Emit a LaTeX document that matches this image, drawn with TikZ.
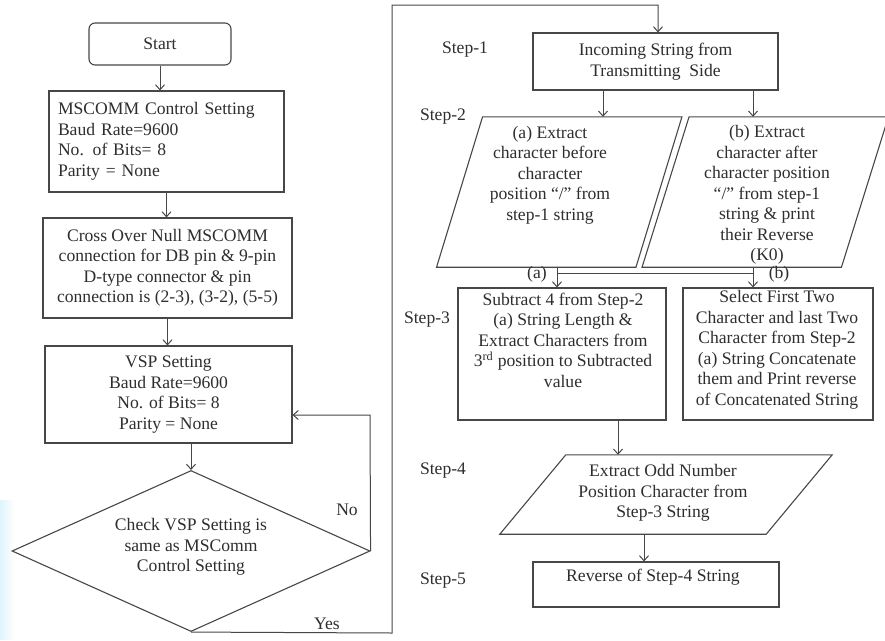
\documentclass[tikz,border=0pt]{standalone}
\usepackage{fontspec}
\setmainfont{Liberation Serif}
\usetikzlibrary{arrows.meta,shapes.geometric,fadings,calc}

% outline of a slanted (input/output) box around a rectangular node
\newcommand\slantoutline[2]{%
  \draw[edgeline,fill=white] ([xshift=#2]#1.north west) -- ([xshift=#2]#1.north east)
    -- ([xshift=-#2]#1.south east) -- ([xshift=-#2]#1.south west) -- cycle;}

\begin{document}
\begin{tikzpicture}[x=1pt,y=-1pt,
  every node/.style={font=\fontsize{17.6}{20.5}\selectfont, text=black!82},
  edgeline/.style={draw=black!72, line width=1.1pt},
  procbox/.style={edgeline, fill=white, rectangle, inner sep=0pt, align=center},
  slab/.style={rectangle, inner sep=0pt},
  txt/.style={inner sep=0pt, align=center},
  arr/.style={draw=black!72, line width=1pt, -{Straight Barb[length=5pt,width=9pt]}},
  conn/.style={draw=black!72, line width=1pt}]

\useasboundingbox (0,0) rectangle (885,640);
\fill[white] (0,0) rectangle (885,640);
\fill[cyan!12, path fading=east] (0,500) rectangle (14,640);

% ---------- left column ----------
\node[procbox, rounded corners=6pt, minimum width=142, minimum height=42] (start) at (160,44) {Start};

\node[procbox, align=left, text width=217, inner xsep=9pt, minimum height=101] (mscomm) at (166.5,141.5)
  {MSCOMM Control Setting\\Baud Rate=9600\\No. of Bits= 8\\Parity = None};

\node[procbox, minimum width=249, minimum height=100] (cross) at (167.5,268)
  {Cross Over Null MSCOMM\\connection for DB pin \& 9-pin\\D-type connector \& pin\\connection is (2-3), (3-2), (5-5)};

\node[procbox, minimum width=247, minimum height=97] (vsp) at (168.5,394.5)
  {VSP Setting\\Baud Rate=9600\\No. of Bits= 8\\Parity = None};

\node[edgeline, fill=white, diamond, inner sep=0pt, minimum width=358, minimum height=161] (dia) at (191,551) {};
\node[txt] (diatext) at (191,547) {Check VSP Setting is\\same as MSComm\\Control Setting};

\draw[arr] (start.south) -- (start.south |- mscomm.north);
\draw[arr] (mscomm.south) -- (mscomm.south |- cross.north);
\draw[arr] (cross.south) -- (cross.south |- vsp.north);
\draw[arr] (vsp.south -| dia.north) -- (dia.north);

\coordinate (nobend) at (370,415);
\draw[arr] (dia.east) -- (nobend) -- (nobend -| vsp.east);
\node[txt] (nolabel) at (347,510) {No};

\coordinate (yesA) at (392,633);
\coordinate (yesB) at (392,5);
\coordinate (yesC) at (658,5);

% ---------- right column ----------
\node[procbox, minimum width=245, minimum height=57] (step1) at (655.5,61.5)
  {Incoming String from\\Transmitting\ \ Side};

\draw[arr] (dia.south) -- (yesA) -- (yesB) -- (yesC) -- (yesC |- step1.north);
\node[txt] (yeslabel) at (327,624) {Yes};

\node[slab, minimum width=199, minimum height=150] (p2a) at (559.25,192) {};
\slantoutline{p2a}{23}
\node[txt] (p2atext) at (550,175)
  {(a) Extract\\character before\\character\\position “/” from\\step-1 string};

\node[slab, minimum width=199, minimum height=150] (p2b) at (765.25,192) {};
\slantoutline{p2b}{23.5}
\node[txt] (p2btext) at (767,195)
  {(b) Extract\\character after\\character position\\“/” from step-1\\string \& print\\their Reverse\\(K0)};

\draw[arr] (step1.south -| 603,0) -- (p2a.north -| 603,0);
\draw[arr] (step1.south -| 753,0) -- (p2b.north -| 753,0);

\node[procbox, minimum width=208, minimum height=132] (s3a) at (562,354) {};
\node[txt] (s3atext) at (563,340)
  {Subtract 4 from Step-2\\(a) String Length \&\\Extract Characters from\\3\textsuperscript{rd} position to Subtracted\\value};

\node[procbox, minimum width=190, minimum height=132] (s3b) at (778,354) {};
\node[txt] (s3btext) at (777,350)
  {Select First Two\\Character and last Two\\Character from Step-2\\(a) String Concatenate\\them and Print reverse\\of Concatenated String};

\coordinate (ja) at (557,273);
\coordinate (jb) at (753,273);
\draw[conn] (ja |- p2a.south) -- (ja) -- (jb);
\draw[arr] (ja) -- (ja |- s3a.north);
\draw[arr] (jb |- p2b.south) -- (jb |- s3b.north);
\node[txt] (alabel) at (537,274) {(a)};
\node[txt] (blabel) at (779,274) {(b)};

\node[slab, minimum width=266, minimum height=79] (p4) at (666,494.5) {};
\slantoutline{p4}{33}
\node[txt] (p4text) at (663,493)
  {Extract Odd Number\\Position Character from\\Step-3 String};

\draw[arr] (s3a.south -| 618,0) -- (p4.north -| 618,0);

\node[procbox, minimum width=246, minimum height=45] (s5) at (656,584.5) {};
\node[txt] (s5text) at (653,577) {Reverse of Step-4 String};

\draw[arr] (p4.south -| 644,0) -- (s5.north -| 644,0);

% step captions
\node[txt] (cap1) at (465,50) {Step-1};
\node[txt] (cap2) at (443,117) {Step-2};
\node[txt] (cap3) at (427,320) {Step-3};
\node[txt] (cap4) at (443,471) {Step-4};
\node[txt] (cap5) at (443,581) {Step-5};
\end{tikzpicture}
\end{document}
